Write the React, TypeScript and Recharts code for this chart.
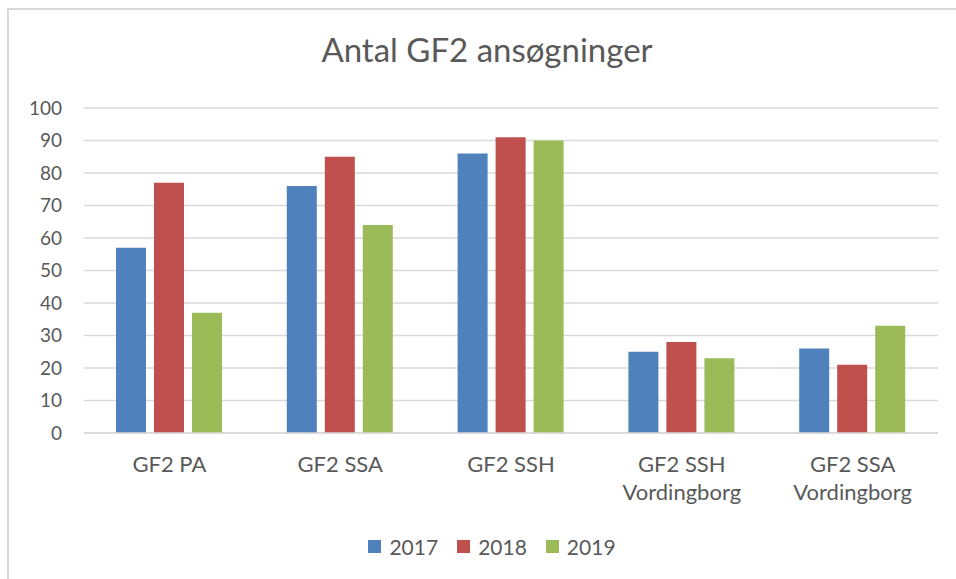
import { BarChart, Bar, XAxis, YAxis, CartesianGrid, Legend } from 'recharts';

const categories = ['GF2 PA', 'GF2 SSA', 'GF2 SSH', 'GF2 SSH\nVordingborg', 'GF2 SSA\nVordingborg'];
const years = ['2017', '2018', '2019'];
const values2017 = [57, 76, 86, 25, 26];
const values2018 = [77, 85, 91, 28, 21];
const values2019 = [37, 64, 90, 23, 33];
const yTicks = [0, 10, 20, 30, 40, 50, 60, 70, 80, 90, 100];

const COLORS = ['#4f81bd', '#c0504d', '#9bbb59'];
const FONT = 'Lato, "Open Sans", sans-serif';
const TEXT = '#595959';

const data = categories.map((name, i) => ({
  name,
  '2017': values2017[i],
  '2018': values2018[i],
  '2019': values2019[i],
}));

// two-line category labels, split on \n
function CategoryTick({ x, y, payload }: any) {
  const lines = String(payload.value).split('\n');
  return (
    <text x={x} y={y} textAnchor="middle" fill={TEXT} fontSize={22} fontFamily={FONT}>
      {lines.map((line, i) => (
        <tspan key={i} x={x} dy={i === 0 ? 27 : 28}>{line}</tspan>
      ))}
    </text>
  );
}

function LegendContent() {
  return (
    <div style={{ display: 'flex', justifyContent: 'center', alignItems: 'center', height: 24, paddingLeft: 28, fontFamily: FONT, fontSize: 21, color: TEXT }}>
      {years.map((y, i) => (
        <div key={y} style={{ display: 'flex', alignItems: 'center', marginRight: i < years.length - 1 ? 19 : 0 }}>
          <span style={{ display: 'inline-block', width: 13, height: 13, background: COLORS[i], marginRight: 8 }} />
          <span>{y}</span>
        </div>
      ))}
    </div>
  );
}

export default function App() {
  return (
    <div style={{ position: 'absolute', left: 0, top: 0, width: 956, height: 579, overflow: 'hidden', background: '#fff' }}>
      <div style={{ position: 'absolute', left: 7, top: 8, width: 1100, height: 1100, borderTop: '2px solid #d9d9d9', borderLeft: '2px solid #d9d9d9' }} />
      <div style={{ position: 'absolute', left: 0, top: 29, width: 974, textAlign: 'center', fontFamily: FONT, fontSize: 33, color: TEXT }}>
        Antal GF2 ansøgninger
      </div>
      <BarChart
        width={956}
        height={579}
        data={data}
        margin={{ top: 108, right: 18, bottom: 62, left: 0 }}
        barGap={8}
        barSize={30}
        style={{ position: 'absolute', left: 0, top: 0 }}
      >
        <CartesianGrid stroke="#d9d9d9" strokeWidth={1.5} vertical={false} />
        <XAxis
          dataKey="name"
          height={60}
          interval={0}
          tick={<CategoryTick />}
          tickLine={false}
          axisLine={{ stroke: '#d9d9d9', strokeWidth: 1.5 }}
          tickSize={0}
          tickMargin={12}
        />
        <YAxis
          width={84}
          domain={[0, 100]}
          ticks={yTicks}
          interval={0}
          axisLine={false}
          tickLine={false}
          tickSize={0}
          tickMargin={22}
          tick={{ fill: TEXT, fontSize: 19, fontFamily: FONT }}
        />
        <Legend
          content={<LegendContent />}
          wrapperStyle={{ position: 'absolute', left: 0, width: 956, top: 534 }}
        />
        {years.map((y, i) => (
          <Bar key={y} dataKey={y} fill={COLORS[i]} isAnimationActive={false} />
        ))}
      </BarChart>
    </div>
  );
}
